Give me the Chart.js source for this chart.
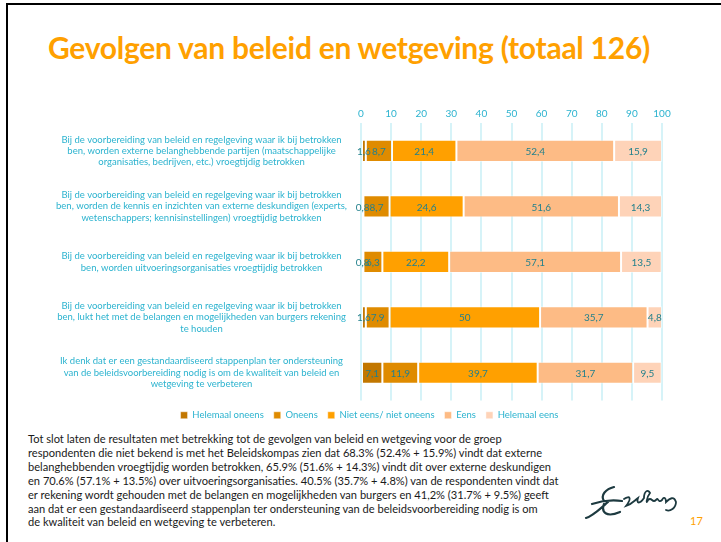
<!DOCTYPE html>
<html>
<head>
<meta charset="utf-8">
<script src="https://cdn.jsdelivr.net/npm/chart.js@4.4.1/dist/chart.umd.min.js"></script>
<style>
  body { margin: 0; background: #fff; width: 721px; height: 542px; position: relative; overflow: hidden; font-family: Lato, sans-serif; }
  .frame { position: absolute; left: 6px; top: 3px; width: 800px; height: 600px; border-left: 2px solid #000; border-top: 2px solid #000; }
  h1 { position: absolute; left: 48px; top: 29px; margin: 0; font-size: 30px; font-weight: 700; color: #ffa000; letter-spacing: -0.25px; }
  .wrap { position: absolute; left: 40px; top: 100px; width: 660px; height: 330px; }
  .note { position: absolute; left: 28px; top: 432px; font-size: 11.1px; line-height: 13.9px; color: #1a1a1a; }
  .page { position: absolute; left: 690px; top: 514px; font-size: 11px; color: #ffa000; }
  svg.logo { position: absolute; left: 584px; top: 482px; }
</style>
</head>
<body>
<div class="frame"></div>
<h1>Gevolgen van beleid en wetgeving (totaal 126)</h1>
<div class="wrap"><canvas id="barChart"></canvas></div>
<div class="note">
Tot slot laten de resultaten met betrekking tot de gevolgen van beleid en wetgeving voor de groep<br>
respondenten die niet bekend is met het Beleidskompas zien dat 68.3% (52.4% + 15.9%) vindt dat externe<br>
belanghebbenden vroegtijdig worden betrokken, 65.9% (51.6% + 14.3%) vindt dit over externe deskundigen<br>
en 70.6% (57.1% + 13.5%) over uitvoeringsorganisaties. 40.5% (35.7% + 4.8%) van de respondenten vindt dat<br>
er rekening wordt gehouden met de belangen en mogelijkheden van burgers en 41,2% (31.7% + 9.5%) geeft<br>
aan dat er een gestandaardiseerd stappenplan ter ondersteuning van de beleidsvoorbereiding nodig is om<br>
de kwaliteit van beleid en wetgeving te verbeteren.
</div>
<svg class="logo" width="110" height="40" viewBox="0 0 110 40">
  <path d="M30 5 C22 7 16 13 20 19 M8 22 C20 18 30 18 38 19 M24 20 C16 27 9 34 2 36 M20 22 C17 30 22 36 36 30" fill="none" stroke="#1d3a40" stroke-width="2.2" stroke-linecap="round"/>
  <path d="M40 17 C46 13 48 16 42 24 C48 22 50 19 54 16 C52 22 56 22 60 16 C60 9 64 7 66 11 C62 16 62 24 64 18 C68 14 68 22 72 18 C74 14 74 22 78 18 C80 14 82 16 82 20 C86 16 90 14 92 20 C92 26 86 30 82 28" fill="none" stroke="#1d3a40" stroke-width="1.8" stroke-linecap="round"/>
</svg>
<div class="page">17</div>
<script>
  const categories = [
    ['Bij de voorbereiding van beleid en regelgeving waar ik bij betrokken', 'ben, worden externe belanghebbende partijen (maatschappelijke', 'organisaties, bedrijven, etc.) vroegtijdig betrokken'],
    ['Bij de voorbereiding van beleid en regelgeving waar ik bij betrokken', 'ben, worden de kennis en inzichten van externe deskundigen (experts,', 'wetenschappers; kennisinstellingen) vroegtijdig betrokken'],
    ['Bij de voorbereiding van beleid en regelgeving waar ik bij betrokken', 'ben, worden uitvoeringsorganisaties vroegtijdig betrokken'],
    ['Bij de voorbereiding van beleid en regelgeving waar ik bij betrokken', 'ben, lukt het met de belangen en mogelijkheden van burgers rekening', 'te houden'],
    ['Ik denk dat er een gestandaardiseerd stappenplan ter ondersteuning', 'van de beleidsvoorbereiding nodig is om de kwaliteit van beleid en', 'wetgeving te verbeteren']
  ];
  const helemaalOneens = [1.6, 0.8, 0.8, 1.6, 7.1];
  const oneens = [8.7, 8.7, 6.3, 7.9, 11.9];
  const nietEensNietOneens = [21.4, 24.6, 22.2, 50, 39.7];
  const eens = [52.4, 51.6, 57.1, 35.7, 31.7];
  const helemaalEens = [15.9, 14.3, 13.5, 4.8, 9.5];

  const cyan = '#2cb3cf';

  // values in the middle of each segment, Dutch decimal comma
  const segmentLabels = {
    id: 'segmentLabels',
    afterDatasetsDraw(chart) {
      const ctx = chart.ctx;
      ctx.save();
      ctx.font = '10px Lato';
      ctx.fillStyle = '#23808c';
      ctx.textAlign = 'center';
      ctx.textBaseline = 'middle';
      chart.data.datasets.forEach((ds, i) => {
        const meta = chart.getDatasetMeta(i);
        meta.data.forEach((bar, j) => {
          const txt = String(ds.data[j]).replace('.', ',');
          ctx.fillText(txt, (bar.x + bar.base) / 2, bar.y + 1);
        });
      });
      ctx.restore();
    }
  };

  // legend in the slide sits a bit right of the canvas centre
  const legendShift = {
    id: 'legendShift',
    afterLayout(chart) {
      chart.legend.left += 12;
      chart.legend.right += 12;
    }
  };

  const ds = (label, data, color) => ({
    label: label,
    data: data,
    backgroundColor: color,
    borderColor: 'rgba(255,255,255,0.45)',
    borderWidth: 1,
    borderSkipped: false,
    barPercentage: 0.4,
    categoryPercentage: 1
  });

  const barX = document.getElementById('barChart');
  const barChart = new Chart(barX, {
    type: 'bar',
    data: {
      labels: categories,
      datasets: [
        ds('Helemaal oneens', helemaalOneens, '#c27700'),
        ds('Oneens', oneens, '#df8b00'),
        ds('Niet eens/ niet oneens', nietEensNietOneens, '#ffa000'),
        ds('Eens', eens, '#fdbb85'),
        ds('Helemaal eens', helemaalEens, '#fed3b8')
      ]
    },
    options: {
      indexAxis: 'y',
      responsive: true,
      maintainAspectRatio: false,
      animation: false,
      layout: { padding: { left: 13, right: 38, top: 0, bottom: 0 } },
      plugins: {
        legend: {
          position: 'bottom',
          labels: { boxWidth: 7, boxHeight: 7, color: cyan, font: { family: 'Lato', size: 9.5 }, padding: 10 }
        },
        tooltip: { enabled: false }
      },
      scales: {
        x: {
          position: 'top',
          stacked: true,
          min: 0,
          max: 100,
          ticks: { stepSize: 10, color: cyan, font: { family: 'Lato', size: 10 } },
          grid: { color: '#d6f3f8', lineWidth: 2, drawTicks: false },
          border: { display: false }
        },
        y: {
          stacked: true,
          afterFit(scale) { scale.width = 308; },
          ticks: { color: cyan, font: { family: 'Lato', size: 9.5 }, crossAlign: 'center', padding: 6 },
          grid: { display: false },
          border: { display: false }
        }
      }
    },
    plugins: [segmentLabels, legendShift]
  });
</script>
</body>
</html>
